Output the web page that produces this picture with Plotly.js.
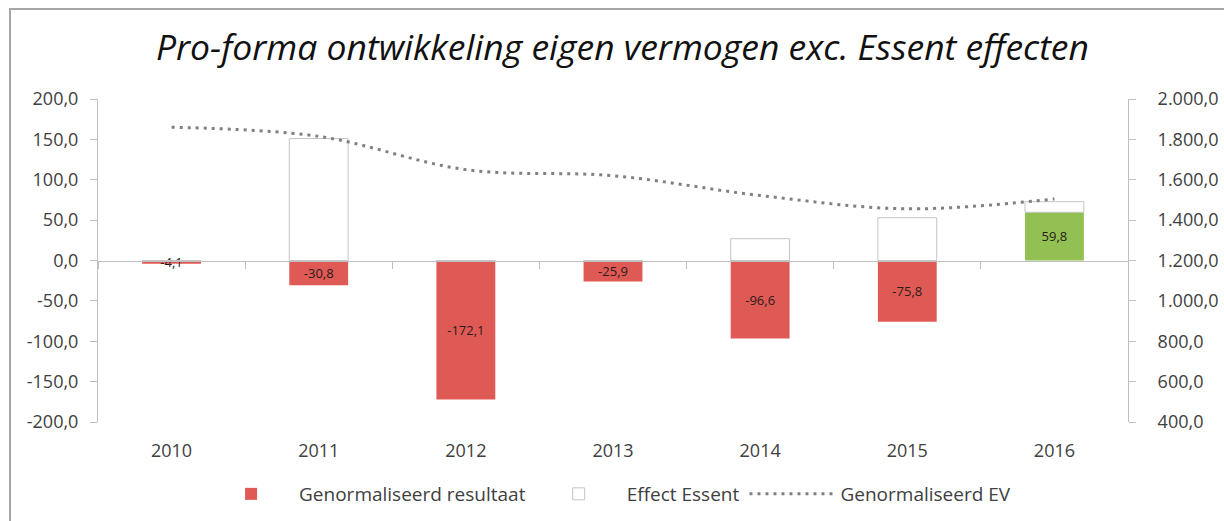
<!DOCTYPE html>
<html>
<head>
<meta charset="utf-8">
<script src="https://cdn.plot.ly/plotly-3.0.1.min.js"></script>
<style>html,body{margin:0;padding:0;background:#fff;}#chart{width:1224px;height:521px;}</style>
</head>
<body>
<div id="chart"></div>
<script>
// ---- data ----
const years = ['2010', '2011', '2012', '2013', '2014', '2015', '2016'];
const resultaat = [-4.1, -30.8, -172.1, -25.9, -96.6, -75.8, 59.8];
const effectEssent = [0, 151, 0, 0, 27, 53, 13];
const genormaliseerdEV = [1860, 1815, 1650, 1620, 1522, 1456, 1505];
const leftTicks = [-200, -150, -100, -50, 0, 50, 100, 150, 200];
const rightTicks = [400, 600, 800, 1000, 1200, 1400, 1600, 1800, 2000];

function fmt(v) {
  const neg = v < 0;
  const parts = Math.abs(v).toFixed(1).split('.');
  const int = parts[0].replace(/\B(?=(\d{3})+(?!\d))/g, '.');
  return (neg ? '-' : '') + int + ',' + parts[1];
}

const RED = '#E05A55';
const GREEN = '#92C052';
const AXIS = '#BFBFBF';
const TXT = '#404040';
const FONT = 'Open Sans, sans-serif';

const traces = [
  {
    type: 'bar', name: 'Genormaliseerd resultaat', x: years, y: resultaat,
    marker: {color: resultaat.map(v => v < 0 ? RED : GREEN), line: {width: 0}},
    width: 0.4,
    text: resultaat.map(fmt), textposition: 'inside', insidetextanchor: 'middle',
    textangle: 0, textfont: {family: FONT, size: 13, color: '#2a1a1a'},
    hoverinfo: 'skip', xaxis: 'x', yaxis: 'y'
  },
  {
    type: 'bar', name: 'Effect Essent', x: years, y: effectEssent,
    marker: {color: '#FFFFFF', line: {width: 1, color: '#C4C4C4'}},
    width: 0.4, hoverinfo: 'skip', xaxis: 'x', yaxis: 'y'
  },
  {
    type: 'scatter', mode: 'lines', name: 'Genormaliseerd EV', x: years, y: genormaliseerdEV,
    line: {color: '#808080', width: 3, dash: '3px,5px', shape: 'spline', smoothing: 1},
    hoverinfo: 'skip', xaxis: 'x', yaxis: 'y2'
  },
  {
    type: 'scatter', mode: 'markers', x: years, y: years.map(() => null),
    showlegend: false, hoverinfo: 'skip', xaxis: 'x2', yaxis: 'y'
  }
];

const layout = {
  width: 1224, height: 521,
  margin: {l: 98, r: 96, t: 99, b: 99},
  paper_bgcolor: '#fff', plot_bgcolor: '#fff',
  separators: ',.',
  barmode: 'relative',
  uniformtext: {mode: 'show', minsize: 13},
  showlegend: true,
  title: {
    text: 'Pro-forma ontwikkeling eigen vermogen exc. Essent effecten',
    font: {family: FONT, size: 35.5, color: '#111', style: 'italic'},
    x: 622.5 / 1224, xanchor: 'center', xref: 'container',
    y: 1 - 48 / 521, yanchor: 'middle', yref: 'container'
  },
  font: {family: FONT, color: TXT},
  xaxis: {
    type: 'category', range: [-0.5, 6.5], showgrid: false, zeroline: false,
    showline: false, ticks: '', tickfont: {family: FONT, size: 18, color: TXT},
    ticklabelstandoff: 16, fixedrange: true, automargin: false
  },
  xaxis2: {
    type: 'category', overlaying: 'x', anchor: 'free', position: 0.5, side: 'bottom',
    range: [-0.5, 6.5], showgrid: false, zeroline: false, showline: true,
    linecolor: AXIS, linewidth: 1, ticks: 'outside', tickson: 'boundaries',
    ticklen: 7, tickcolor: AXIS, showticklabels: false, fixedrange: true
  },
  yaxis: {
    range: [-200, 200], tickvals: leftTicks, ticktext: leftTicks.map(fmt),
    showgrid: false, zeroline: false, showline: true, linecolor: AXIS, linewidth: 1,
    ticks: 'outside', ticklen: 7, tickcolor: AXIS, automargin: false,
    tickfont: {family: FONT, size: 18, color: TXT}, ticklabelstandoff: 8, fixedrange: true
  },
  yaxis2: {
    range: [400, 2000], tickvals: rightTicks, ticktext: rightTicks.map(fmt),
    overlaying: 'y', side: 'right', anchor: 'x', automargin: false,
    showgrid: false, zeroline: false, showline: true, linecolor: AXIS, linewidth: 1,
    ticks: 'outside', ticklen: 7, tickcolor: AXIS,
    tickfont: {family: FONT, size: 18, color: TXT}, ticklabelstandoff: 18, fixedrange: true
  },
  legend: {
    orientation: 'h', x: 0.498, xanchor: 'center', xref: 'container',
    y: 1 - 494 / 521, yanchor: 'middle', yref: 'container',
    font: {family: FONT, size: 19, color: TXT}, bgcolor: 'rgba(0,0,0,0)',
    itemwidth: 86, traceorder: 'normal'
  },
  shapes: [{
    type: 'rect', xref: 'paper', yref: 'paper',
    x0: (10 - 98) / 1030, x1: (1240 - 98) / 1030,
    y0: (422 - 540) / 323, y1: (422 - 9) / 323,
    line: {color: '#A6A6A6', width: 2}, fillcolor: 'rgba(0,0,0,0)', layer: 'below'
  }]
};

Plotly.newPlot('chart', traces, layout, {displayModeBar: false, staticPlot: true});
</script>
</body>
</html>
